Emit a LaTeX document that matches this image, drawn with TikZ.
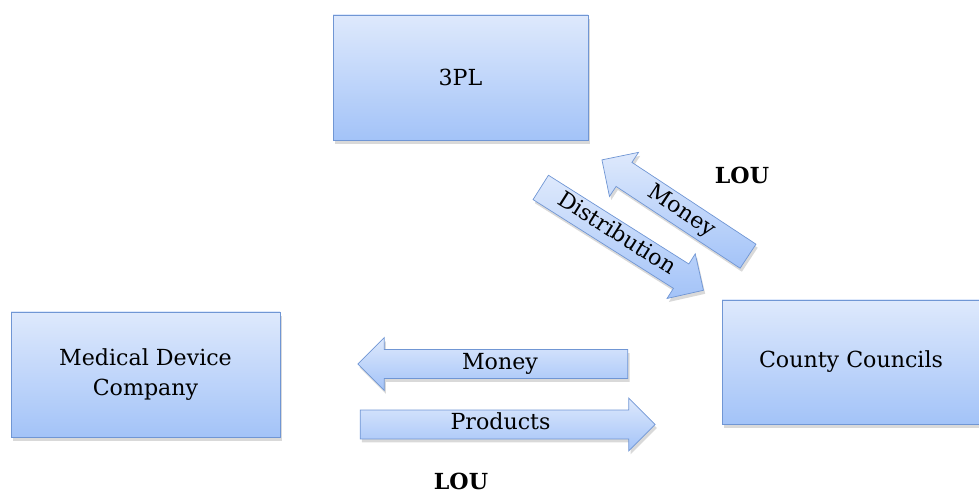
\documentclass[tikz,border=0pt]{standalone}
\usepackage{fontspec}
\setmainfont{DejaVu Serif}
\usepackage{xcolor}
\definecolor{boxtop}{RGB}{222,233,252}
\definecolor{boxbottom}{RGB}{163,195,248}
\definecolor{boxline}{RGB}{112,150,212}
\usetikzlibrary{shapes.arrows, shadows}

\begin{document}
\begin{tikzpicture}[
  party/.style={draw=boxline, top color=boxtop, bottom color=boxbottom,
    drop shadow={shadow xshift=1pt, shadow yshift=-2pt, opacity=0.3},
    font=\fontsize{12.6}{17}\selectfont, align=center, inner sep=0pt},
  flow/.style={single arrow, draw=boxline, top color=boxtop, bottom color=boxbottom,
    drop shadow={shadow xshift=1pt, shadow yshift=-2pt, opacity=0.3},
    single arrow head extend=0.24cm, inner xsep=0pt, inner ysep=2pt,
    text height=9pt, text depth=3pt, font=\fontsize{12.6}{15}\selectfont},
  note/.style={font=\fontsize{12.6}{15}\selectfont\bfseries, inner sep=1pt}
]
  \useasboundingbox (0,0) rectangle (19.58,9.9);

  % The three parties
  \node[party, minimum width=5.1cm, minimum height=2.5cm] (threepl) at (9.21,8.35) {3PL};
  \node[party, minimum width=5.38cm, minimum height=2.5cm] (mdc) at (2.91,2.41)
       {Medical Device\\Company};
  \node[party, minimum width=5.16cm, minimum height=2.48cm] (councils) at (17.02,2.66)
       {County Councils};

  % Flows between 3PL and the councils
  \node[flow, minimum height=3.85cm, rotate=-32.3] (distribution) at (12.32,5.2)
       {Distribution};
  \node[flow, minimum height=3.5cm, rotate=-33.4, shape border rotate=180] (moneytop)
       at (13.62,5.66) {Money};
  \node[note] (loutop) at (14.84,6.4) {LOU};

  % Flows between the company and the councils
  \node[flow, minimum height=5.4cm, shape border rotate=180] (moneybottom) at (10.0,2.62)
       {Money};
  \node[flow, minimum height=5.9cm] (products) at (10.01,1.41) {Products};
  \node[note] (loubottom) at (9.22,0.27) {LOU};
\end{tikzpicture}
\end{document}
